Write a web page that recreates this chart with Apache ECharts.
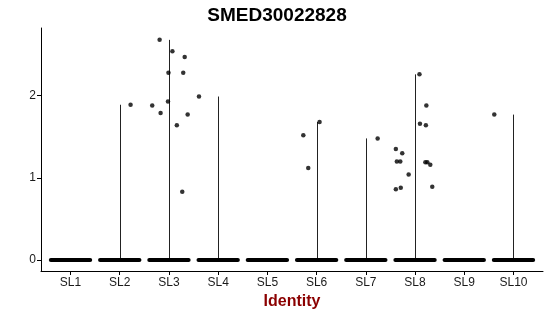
<!DOCTYPE html>
<html><head><meta charset="utf-8">
<script src="https://cdn.jsdelivr.net/npm/echarts@6/dist/echarts.min.js"></script>
<style>html,body{margin:0;padding:0;background:#fff}#c{width:550px;height:316px}</style>
</head><body><div id="c"></div>
<script>
var categories = ['SL1','SL2','SL3','SL4','SL5','SL6','SL7','SL8','SL9','SL10'];
var yTicks = [0, 1, 2];
// violin top (max expression) per category; null = all zeros
var violinMax = [null, 1.89, 2.68, 1.99, null, 1.68, 1.48, 2.26, null, 1.77];
// every category has a dense band of cells at 0
var zeroValue = [0, 0, 0, 0, 0, 0, 0, 0, 0, 0];
// non-zero cells: jittered x position (category index + jitter) and value
var pointX = [2.22,
  2.81, 3.07, 3.32, 2.99, 3.29, 2.66, 2.98, 2.83, 3.38, 3.16, 3.27,
  3.61,
  6.06, 5.73, 5.83,
  7.24,
  8.09, 8.23, 8.10, 8.22, 7.61, 7.74, 7.63, 7.70, 8.21, 8.25, 8.31, 7.87, 8.35, 7.61, 7.71,
  9.61];
var pointY = [1.89,
  2.68, 2.54, 2.47, 2.28, 2.28, 1.88, 1.93, 1.79, 1.77, 1.64, 0.83,
  1.99,
  1.68, 1.52, 1.12,
  1.48,
  2.26, 1.88, 1.66, 1.64, 1.35, 1.30, 1.20, 1.20, 1.19, 1.19, 1.16, 1.04, 0.89, 0.86, 0.88,
  1.77];

var yMaxData = 2.69;
var pad = yMaxData * 0.05;
var chart = echarts.init(document.getElementById('c'), null, {renderer: 'canvas'});
var font = 'Liberation Sans, Arial, sans-serif';

var violinData = [];
violinMax.forEach(function (v, i) { if (v !== null) violinData.push([i + 1, v]); });
var zeroData = zeroValue.map(function (v, i) { return [i + 1, v]; });
var pts = pointX.map(function (x, i) { return [x, pointY[i]]; });

chart.setOption({
  animation: false,
  backgroundColor: '#fff',
  title: {
    text: 'SMED30022828', left: 272, top: 1, textAlign: 'center',
    textStyle: {fontFamily: font, fontSize: 19, fontWeight: 'bold', color: '#000'}
  },
  grid: {left: 41, right: 7, top: 28, bottom: 45, containLabel: false, outerBoundsMode: 'none'},
  xAxis: {
    type: 'value', min: 0.4, max: 10.6,
    name: 'Identity', nameLocation: 'middle', nameGap: 21,
    nameTextStyle: {fontFamily: font, fontSize: 16, fontWeight: 'bold', color: '#8B0000'},
    axisLine: {show: true, onZero: false, lineStyle: {color: '#000', width: 1}},
    axisTick: {show: true, inside: false, length: 4, lineStyle: {color: '#000'}, customValues: [1,2,3,4,5,6,7,8,9,10]},
    axisLabel: {fontFamily: font, fontSize: 12, color: '#1a1a1a', margin: 6,
      customValues: [1,2,3,4,5,6,7,8,9,10],
      formatter: function (v) { return categories[Math.round(v) - 1]; }},
    splitLine: {show: false}
  },
  yAxis: {
    type: 'value', min: -pad, max: yMaxData + pad,
    axisLine: {show: true, onZero: false, lineStyle: {color: '#000', width: 1}},
    axisTick: {show: true, inside: false, length: 4, lineStyle: {color: '#000'}, customValues: yTicks},
    axisLabel: {fontFamily: font, fontSize: 12, color: '#1a1a1a', margin: 5, customValues: yTicks,
      formatter: function (v) { return String(Math.round(v)); }},
    splitLine: {show: false}
  },
  series: [
    {
      type: 'custom', data: violinData, z: 2,
      renderItem: function (params, api) {
        var c = api.value(0), v = api.value(1);
        var p0 = api.coord([c, 0]), p1 = api.coord([c, v]);
        return {type: 'line', shape: {x1: Math.round(p0[0]) + 0.5, y1: p0[1], x2: Math.round(p1[0]) + 0.5, y2: p1[1]},
          style: {stroke: '#222', lineWidth: 1}};
      }
    },
    {
      type: 'custom', data: zeroData, z: 3,
      renderItem: function (params, api) {
        var c = api.value(0), v = api.value(1);
        var p0 = api.coord([c - 0.40, v]), p1 = api.coord([c + 0.40, v]);
        return {type: 'line', shape: {x1: p0[0], y1: p0[1], x2: p1[0], y2: p1[1]},
          style: {stroke: '#000', lineWidth: 4, lineCap: 'round'}};
      }
    },
    {
      type: 'scatter', data: pts, symbol: 'circle', symbolSize: 4.5, z: 4,
      itemStyle: {color: '#000'}
    }
  ]
});
</script></body></html>
